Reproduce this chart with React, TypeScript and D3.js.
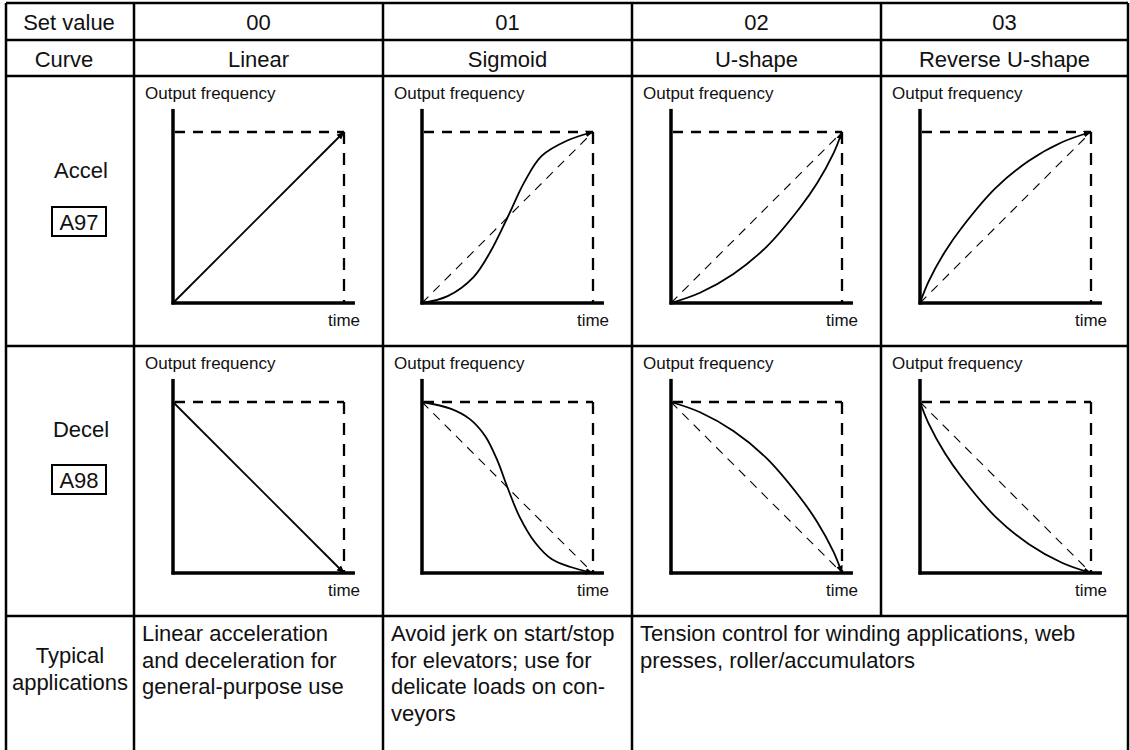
import React from "react";
import * as d3 from "d3";

const setValues = ["00", "01", "02", "03"];
const curveNames = ["Linear", "Sigmoid", "U-shape", "Reverse U-shape"];
const rowLabels = ["Accel", "Decel"];
const paramCodes = ["A97", "A98"];
const axisLabelY = "Output frequency";
const axisLabelX = "time";

// normalized (time, frequency) points
const accelLinear = [[0, 0], [1, 1]];
const accelSigmoid = [[0, 0], [0.15, 0.04], [0.3, 0.15], [0.4, 0.3], [0.5, 0.5], [0.6, 0.71], [0.7, 0.86], [0.85, 0.95], [1, 1]];
const accelU = [[0, 0], [0.17, 0.06], [0.365, 0.17], [0.56, 0.33], [0.756, 0.56], [0.854, 0.7], [0.95, 0.875], [1, 1]];
const accelRevU = [[0, 0], [0.05, 0.125], [0.146, 0.3], [0.244, 0.44], [0.44, 0.67], [0.635, 0.83], [0.83, 0.94], [1, 1]];
const decelLinear = [[0, 1], [1, 0]];
const decelSigmoid = [[0, 1], [0.17, 0.96], [0.28, 0.9], [0.37, 0.8], [0.44, 0.66], [0.5, 0.5], [0.57, 0.33], [0.66, 0.18], [0.76, 0.08], [0.87, 0.035], [1, 0]];
const decelU = [[0, 1], [0.17, 0.94], [0.365, 0.83], [0.56, 0.67], [0.756, 0.44], [0.854, 0.3], [0.95, 0.125], [1, 0]];
const decelRevU = [[0, 1], [0.05, 0.875], [0.146, 0.7], [0.244, 0.56], [0.44, 0.33], [0.635, 0.17], [0.83, 0.06], [1, 0]];

const accelCurves = [accelLinear, accelSigmoid, accelU, accelRevU];
const decelCurves = [decelLinear, decelSigmoid, decelU, decelRevU];
const showDiagonal = [false, true, true, true];

const appTexts = [
  ["Linear acceleration", "and deceleration for", "general-purpose use"],
  ["Avoid jerk on start/stop", "for elevators; use for", "delicate loads on con-", "veyors"],
  ["Tension control for winding applications, web", "presses, roller/accumulators"],
];
const appLabel = ["Typical", "applications"];
const headLabels = ["Set value", "Curve"];

const W = 1130;
const H = 750;
const colX = [6, 134, 383, 632, 881, 1128];
const rowY = [3, 40, 76, 346, 616, 752];
const labelOffsets = [
  { text: 102, box: 131 },
  { text: 91, box: 119 },
];
const headCenterX = [69, 64];
const FONT = "'Liberation Sans', Arial, Helvetica, sans-serif";

function MiniChart({ x0, y0, pts, diag }: any) {
  const xs = d3.scaleLinear().domain([0, 1]).range([x0 + 39, x0 + 210]);
  const ys = d3.scaleLinear().domain([0, 1]).range([y0 + 227, y0 + 56]);
  const line = d3
    .line<number[]>()
    .x((d) => xs(d[0]))
    .y((d) => ys(d[1]))
    .curve(d3.curveCatmullRom.alpha(0.5));
  const start = pts[0];
  const end = pts[pts.length - 1];
  return (
    <g>
      <text x={x0 + 11} y={y0 + 23} fontSize={17} fontFamily={FONT} fill="#111">
        {axisLabelY}
      </text>
      {/* dashed frame */}
      <line x1={xs(0) + 2} y1={ys(1)} x2={xs(1)} y2={ys(1)} stroke="#000" strokeWidth={2.3} strokeDasharray="10,8" />
      <line x1={xs(1)} y1={ys(1)} x2={xs(1)} y2={ys(0)} stroke="#000" strokeWidth={2.3} strokeDasharray="12,9" />
      {diag && (
        <line
          x1={xs(start[0])}
          y1={ys(start[1])}
          x2={xs(end[0])}
          y2={ys(end[1])}
          stroke="#000"
          strokeWidth={1.1}
          strokeDasharray="9,7"
        />
      )}
      <path d={line(pts) || ""} fill="none" stroke="#000" strokeWidth={1.8} markerEnd="url(#arrow)" />
      {/* axes */}
      <line x1={xs(0)} y1={ys(1.135)} x2={xs(0)} y2={ys(0) + 1.5} stroke="#000" strokeWidth={3.5} />
      <line x1={xs(0) - 1.5} y1={ys(0)} x2={xs(1.064)} y2={ys(0)} stroke="#000" strokeWidth={3.5} />
      <text x={xs(1)} y={y0 + 250} fontSize={17} fontFamily={FONT} textAnchor="middle" fill="#111">
        {axisLabelX}
      </text>
    </g>
  );
}

export default function App() {
  const lw = 2.5;
  const rows = [accelCurves, decelCurves];
  return (
    <svg width={W} height={H} style={{ position: "absolute", left: 0, top: 0, background: "#fff" }}>
      <defs>
        <marker id="arrow" viewBox="0 0 10 10" refX="9" refY="5" markerWidth="4.5" markerHeight="4.5" orient="auto" markerUnits="strokeWidth">
          <path d="M0,1 L10,5 L0,9 z" fill="#000" />
        </marker>
      </defs>
      <rect x={0} y={0} width={W} height={H} fill="#fff" />
      {/* grid lines */}
      {[0, 1, 2, 3, 4].map((k) => (
        <line key={"h" + k} x1={colX[0]} y1={rowY[k]} x2={colX[5]} y2={rowY[k]} stroke="#000" strokeWidth={lw} />
      ))}
      {colX.map((cx, i) => (
        <line
          key={"c" + i}
          x1={cx}
          y1={rowY[0]}
          x2={cx}
          y2={i === 4 ? rowY[4] : rowY[5]}
          stroke="#000"
          strokeWidth={lw}
        />
      ))}
      {/* header */}
      {headLabels.map((t, i) => (
        <text key={"hl" + i} x={headCenterX[i]} y={rowY[i] + 27} fontSize={22} fontFamily={FONT} textAnchor="middle" fill="#111">
          {t}
        </text>
      ))}
      {setValues.map((t, i) => (
        <text key={"s" + i} x={(colX[i + 1] + colX[i + 2]) / 2} y={rowY[0] + 27} fontSize={22} fontFamily={FONT} textAnchor="middle" fill="#111">
          {t}
        </text>
      ))}
      {curveNames.map((t, i) => (
        <text key={"n" + i} x={(colX[i + 1] + colX[i + 2]) / 2} y={rowY[1] + 27} fontSize={22} fontFamily={FONT} textAnchor="middle" fill="#111">
          {t}
        </text>
      ))}
      {/* row labels */}
      {rowLabels.map((t, r) => {
        const top = rowY[2 + r];
        const off = labelOffsets[r];
        return (
          <g key={"r" + r}>
            <text x={81} y={top + off.text} fontSize={22} fontFamily={FONT} textAnchor="middle" fill="#111">
              {t}
            </text>
            <rect x={52} y={top + off.box} width={54} height={29} fill="none" stroke="#000" strokeWidth={2} />
            <text x={79} y={top + off.box + 23} fontSize={22} fontFamily={FONT} textAnchor="middle" fill="#111">
              {paramCodes[r]}
            </text>
          </g>
        );
      })}
      {/* mini charts */}
      {rows.map((curves, r) =>
        curves.map((pts, c) => (
          <MiniChart key={r + "-" + c} x0={colX[c + 1]} y0={rowY[2 + r]} pts={pts} diag={showDiagonal[c]} />
        ))
      )}
      {/* applications row */}
      {appLabel.map((t, i) => (
        <text key={"a" + i} x={70} y={rowY[4] + 47 + i * 27} fontSize={22} fontFamily={FONT} textAnchor="middle" fill="#111">
          {t}
        </text>
      ))}
      {appTexts.map((lines, i) => (
        <g key={"t" + i}>
          {lines.map((l, j) => (
            <text key={j} x={colX[i + 1] + 8} y={rowY[4] + 25 + j * 26.7} fontSize={22} fontFamily={FONT} fill="#111">
              {l}
            </text>
          ))}
        </g>
      ))}
    </svg>
  );
}
